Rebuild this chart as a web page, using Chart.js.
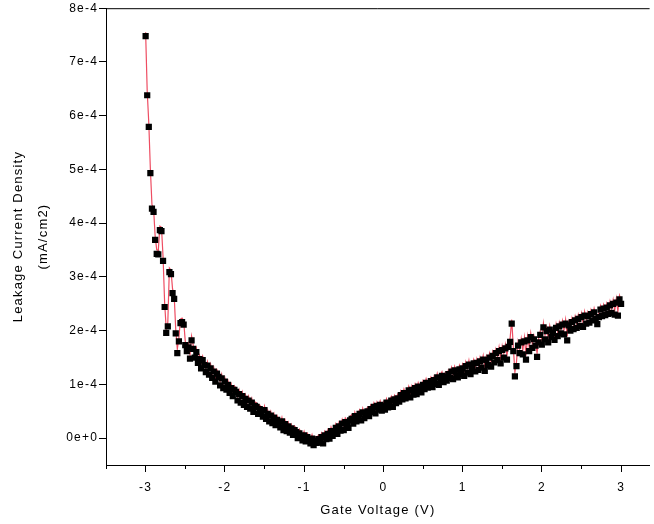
<!DOCTYPE html>
<html>
<head>
<meta charset="utf-8">
<script src="https://cdn.jsdelivr.net/npm/chart.js@4/dist/chart.umd.min.js"></script>
<style>
  html, body { margin: 0; padding: 0; background: #fff; }
  #wrap { width: 654px; height: 524px; }
</style>
</head>
<body>
<div id="wrap"><canvas id="leakChart" width="654" height="524"></canvas></div>
<script>
// Gate voltage sweep (V)
const gateVoltage = [
  -3.00, -2.98, -2.96, -2.94, -2.92, -2.90, -2.88, -2.86, -2.84, -2.82,
  -2.80, -2.78, -2.76, -2.74, -2.72, -2.70, -2.68, -2.66, -2.64, -2.62,
  -2.60, -2.58, -2.56, -2.54, -2.52, -2.50, -2.48, -2.46, -2.44, -2.42,
  -2.40, -2.38, -2.36, -2.34, -2.32, -2.30, -2.28, -2.26, -2.24, -2.22,
  -2.20, -2.18, -2.16, -2.14, -2.12, -2.10, -2.08, -2.06, -2.04, -2.02,
  -2.00, -1.98, -1.96, -1.94, -1.92, -1.90, -1.88, -1.86, -1.84, -1.82,
  -1.80, -1.78, -1.76, -1.74, -1.72, -1.70, -1.68, -1.66, -1.64, -1.62,
  -1.60, -1.58, -1.56, -1.54, -1.52, -1.50, -1.48, -1.46, -1.44, -1.42,
  -1.40, -1.38, -1.36, -1.34, -1.32, -1.30, -1.28, -1.26, -1.24, -1.22,
  -1.20, -1.18, -1.16, -1.14, -1.12, -1.10, -1.08, -1.06, -1.04, -1.02,
  -1.00, -0.98, -0.96, -0.94, -0.92, -0.90, -0.88, -0.86, -0.84, -0.82,
  -0.80, -0.78, -0.76, -0.74, -0.72, -0.70, -0.68, -0.66, -0.64, -0.62,
  -0.60, -0.58, -0.56, -0.54, -0.52, -0.50, -0.48, -0.46, -0.44, -0.42,
  -0.40, -0.38, -0.36, -0.34, -0.32, -0.30, -0.28, -0.26, -0.24, -0.22,
  -0.20, -0.18, -0.16, -0.14, -0.12, -0.10, -0.08, -0.06, -0.04, -0.02,
   0.00,  0.02,  0.04,  0.06,  0.08,  0.10,  0.12,  0.14,  0.16,  0.18,
   0.20,  0.22,  0.24,  0.26,  0.28,  0.30,  0.32,  0.34,  0.36,  0.38,
   0.40,  0.42,  0.44,  0.46,  0.48,  0.50,  0.52,  0.54,  0.56,  0.58,
   0.60,  0.62,  0.64,  0.66,  0.68,  0.70,  0.72,  0.74,  0.76,  0.78,
   0.80,  0.82,  0.84,  0.86,  0.88,  0.90,  0.92,  0.94,  0.96,  0.98,
   1.00,  1.02,  1.04,  1.06,  1.08,  1.10,  1.12,  1.14,  1.16,  1.18,
   1.20,  1.22,  1.24,  1.26,  1.28,  1.30,  1.32,  1.34,  1.36,  1.38,
   1.40,  1.42,  1.44,  1.46,  1.48,  1.50,  1.52,  1.54,  1.56,  1.58,
   1.60,  1.62,  1.64,  1.66,  1.68,  1.70,  1.72,  1.74,  1.76,  1.78,
   1.80,  1.82,  1.84,  1.86,  1.88,  1.90,  1.92,  1.94,  1.96,  1.98,
   2.00,  2.02,  2.04,  2.06,  2.08,  2.10,  2.12,  2.14,  2.16,  2.18,
   2.20,  2.22,  2.24,  2.26,  2.28,  2.30,  2.32,  2.34,  2.36,  2.38,
   2.40,  2.42,  2.44,  2.46,  2.48,  2.50,  2.52,  2.54,  2.56,  2.58,
   2.60,  2.62,  2.64,  2.66,  2.68,  2.70,  2.72,  2.74,  2.76,  2.78,
   2.80,  2.82,  2.84,  2.86,  2.88,  2.90,  2.92,  2.94,  2.96,  2.98,
   3.00
];

// Leakage current density, in units of 1e-4 mA/cm2
const leakage = [
  7.48, 6.38, 5.79, 4.93, 4.27, 4.21, 3.69, 3.43, 3.42, 3.87,
  3.85, 3.30, 2.44, 1.96, 2.08, 3.09, 3.05, 2.70, 2.59, 1.95,
  1.58, 1.80, 2.14, 2.16, 2.11, 1.73, 1.62, 1.69, 1.48, 1.82,
  1.66, 1.50, 1.60, 1.40, 1.47, 1.30, 1.45, 1.36, 1.23, 1.35,
  1.18, 1.30, 1.12, 1.24, 1.05, 1.20, 1.14, 0.98, 1.11, 0.93,
  1.05, 0.90, 0.99, 0.84, 0.93, 0.78, 0.90, 0.86, 0.70, 0.82,
  0.66, 0.78, 0.62, 0.73, 0.58, 0.70, 0.55, 0.66, 0.49, 0.60,
  0.58, 0.45, 0.54, 0.50, 0.40, 0.52, 0.36, 0.45, 0.31, 0.42,
  0.28, 0.38, 0.24, 0.34, 0.26, 0.20, 0.31, 0.15, 0.26, 0.13,
  0.22, 0.10, 0.18, 0.06, 0.15, 0.11, 0.00, 0.09, 0.04, -0.04,
  0.05, -0.06, 0.02, -0.03, -0.10, -0.01, -0.13, -0.05, -0.09, -0.02,
  -0.07, 0.02, -0.10, 0.05, -0.02, 0.08, -0.01, 0.13, 0.04, 0.10,
  0.19, 0.08, 0.22, 0.14, 0.27, 0.15, 0.30, 0.26, 0.19, 0.33,
  0.36, 0.27, 0.41, 0.31, 0.38, 0.45, 0.33, 0.48, 0.37, 0.44,
  0.50, 0.41, 0.54, 0.49, 0.58, 0.46, 0.60, 0.53, 0.62, 0.51,
  0.60, 0.53, 0.66, 0.57, 0.63, 0.70, 0.58, 0.72, 0.65, 0.74,
  0.68, 0.80, 0.72, 0.84, 0.74, 0.79, 0.89, 0.76, 0.90, 0.81,
  0.93, 0.82, 0.96, 0.88, 0.85, 0.99, 0.91, 1.03, 0.94, 0.98,
  1.06, 0.95, 1.08, 1.01, 1.13, 0.99, 1.10, 1.16, 1.04, 1.14,
  1.07, 1.19, 1.12, 1.24, 1.10, 1.26, 1.17, 1.13, 1.28, 1.19,
  1.30, 1.16, 1.34, 1.22, 1.37, 1.19, 1.29, 1.39, 1.24, 1.40,
  1.27, 1.43, 1.31, 1.46, 1.25, 1.45, 1.36, 1.50, 1.33, 1.53,
  1.41, 1.58, 1.45, 1.62, 1.39, 1.64, 1.50, 1.67, 1.46, 1.70,
  1.79, 2.13, 1.62, 1.15, 1.34, 1.72, 1.58, 1.78, 1.56, 1.80,
  1.46, 1.82, 1.62, 1.88, 1.68, 1.84, 1.72, 1.51, 1.78, 1.92,
  1.74, 2.06, 1.84, 1.99, 1.78, 2.02, 1.88, 1.96, 1.83, 2.05,
  1.90, 2.08, 1.95, 2.11, 1.93, 2.13, 1.82, 2.10, 2.00, 2.16,
  2.03, 2.19, 2.05, 2.22, 2.09, 2.25, 2.07, 2.28, 2.13, 2.27,
  2.15, 2.31, 2.19, 2.34, 2.22, 2.12, 2.25, 2.39, 2.27, 2.41,
  2.29, 2.43, 2.31, 2.47, 2.33, 2.50, 2.30, 2.52, 2.28, 2.58,
  2.50
];

const xTickValues = [-3.5, -3, -2.5, -2, -1.5, -1, -0.5, 0, 0.5, 1, 1.5, 2, 2.5, 3];
const yTickValues = [0, 1, 2, 3, 4, 5, 6, 7, 8];

const points = gateVoltage.map((v, i) => ({ x: v, y: leakage[i] }));

// wide letter spacing like the original export
const spacingPlugin = {
  id: 'spacing',
  beforeUpdate(chart) { chart.ctx.letterSpacing = '1.2px'; },
  beforeDraw(chart) { chart.ctx.letterSpacing = '1.2px'; }
};

// line sits a few px above the markers in the original
const lineShift = {
  id: 'lineShift',
  beforeDatasetDraw(chart, args) {
    if (args.index === 1) {
      chart.ctx.save();
      chart.ctx.translate(0, -4);
    }
  },
  afterDatasetDraw(chart, args) {
    if (args.index === 1) chart.ctx.restore();
  }
};

// top frame line + short minor ticks on x
const frame = {
  id: 'frame',
  afterDraw(chart) {
    const { ctx, chartArea } = chart;
    const xs = chart.scales.x;
    ctx.save();
    ctx.strokeStyle = '#000';
    ctx.lineWidth = 1;
    ctx.beginPath();
    ctx.moveTo(chartArea.left, chartArea.top + 0.5);
    ctx.lineTo(chartArea.right, chartArea.top + 0.5);
    xTickValues.filter(v => !Number.isInteger(v)).forEach(v => {
      const px = Math.round(xs.getPixelForValue(v)) + 0.5;
      ctx.moveTo(px, chartArea.bottom);
      ctx.lineTo(px, chartArea.bottom + 4);
    });
    ctx.stroke();
    ctx.restore();
  }
};

new Chart(document.getElementById('leakChart'), {
  type: 'scatter',
  data: {
    datasets: [
      {
        data: points,
        showLine: false,
        pointStyle: 'rect',
        pointRadius: 4.4,
        pointBackgroundColor: '#000',
        pointBorderWidth: 0
      },
      {
        data: points,
        showLine: true,
        borderColor: '#ee4d62',
        borderWidth: 1.2,
        pointRadius: 0
      }
    ]
  },
  options: {
    responsive: false,
    animation: false,
    layout: { padding: 0 },
    plugins: {
      legend: { display: false },
      tooltip: { enabled: false }
    },
    scales: {
      x: {
        type: 'linear',
        min: -3.5,
        max: 3.36,
        afterBuildTicks: (scale) => { scale.ticks = xTickValues.map(v => ({ value: v })); },
        afterFit: (scale) => { scale.height = 59; },
        border: { display: true, color: '#000', width: 1 },
        grid: {
          drawOnChartArea: false,
          tickLength: 7,
          tickColor: (c) => Number.isInteger(c.tick.value) ? '#000' : 'rgba(0,0,0,0)'
        },
        ticks: {
          color: '#000',
          padding: 8,
          maxRotation: 0,
          autoSkip: false,
          font: { family: 'Liberation Sans, Arial', size: 12 },
          callback: (v) => Number.isInteger(v) ? String(v) : ''
        },
        title: {
          display: true,
          text: 'Gate Voltage (V)',
          color: '#000',
          font: { family: 'Liberation Sans, Arial', size: 13, lineHeight: 1.2 },
          padding: { top: 0, bottom: 6 }
        }
      },
      y: {
        min: -0.5,
        max: 8,
        afterBuildTicks: (scale) => { scale.ticks = yTickValues.map(v => ({ value: v })); },
        afterFit: (scale) => { scale.width = 106; },
        border: { display: true, color: '#000', width: 1 },
        grid: { drawOnChartArea: false, tickLength: 7, tickColor: '#000' },
        ticks: {
          color: '#000',
          padding: 1,
          font: { family: 'Liberation Sans, Arial', size: 12 },
          callback: (v) => v === 0 ? '0e+0' : v + 'e-4'
        },
        title: {
          display: true,
          text: ['Leakage Current Density', '(mA/cm2)'],
          color: '#000',
          font: { family: 'Liberation Sans, Arial', size: 13, lineHeight: '25px' },
          padding: { top: 6, bottom: 0 }
        }
      }
    }
  },
  plugins: [spacingPlugin, lineShift, frame]
});
</script>
</body>
</html>
